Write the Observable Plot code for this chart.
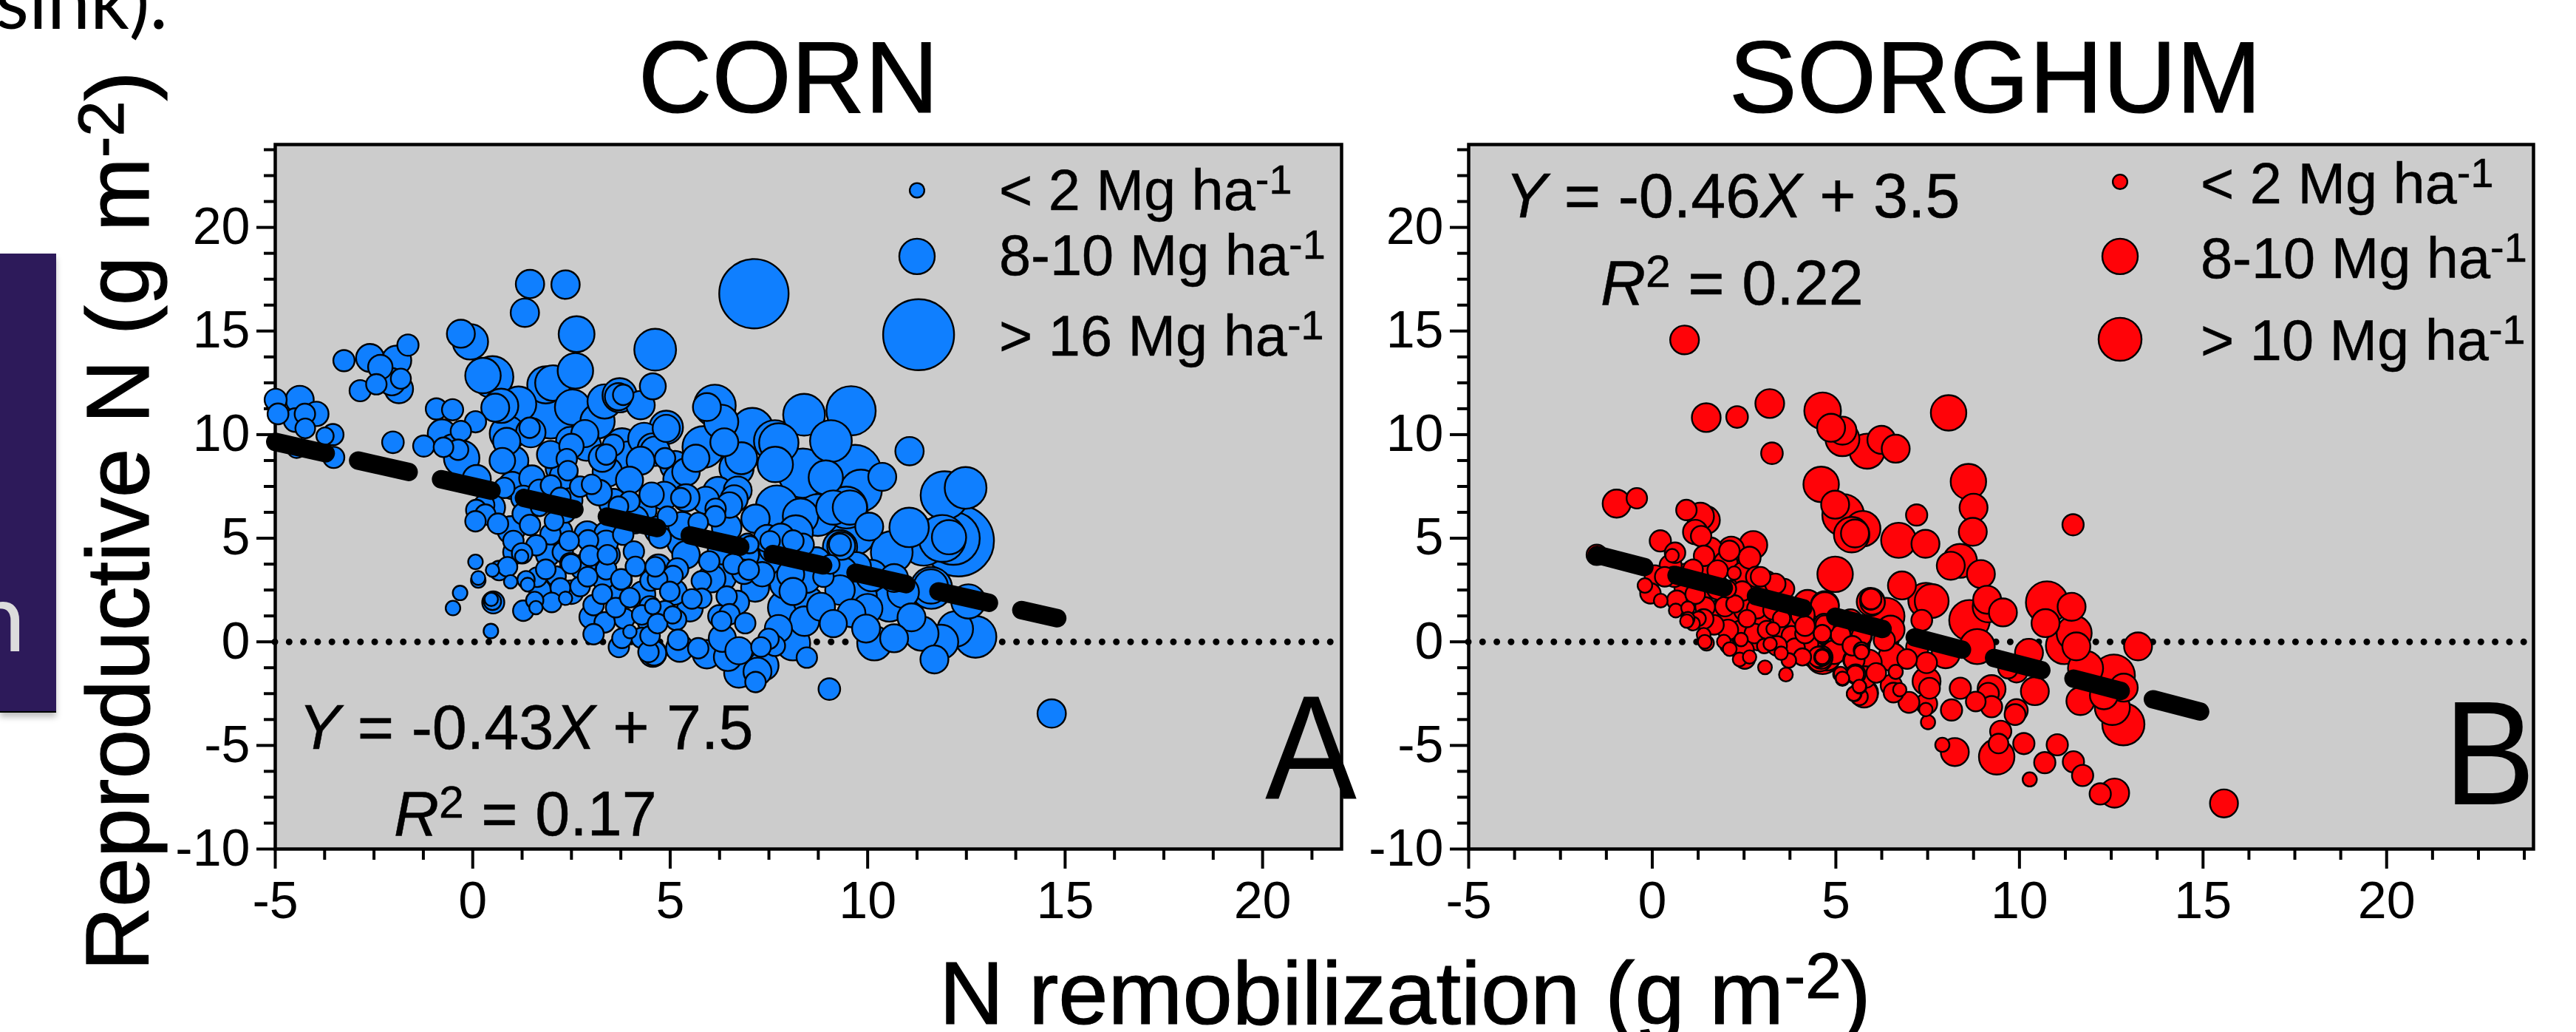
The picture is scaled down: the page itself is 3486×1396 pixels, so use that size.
<!DOCTYPE html>
<html><head><meta charset="utf-8">
<script src="https://cdn.jsdelivr.net/npm/d3@7"></script>
<script src="https://cdn.jsdelivr.net/npm/@observablehq/plot@0.6"></script>
<style>
html,body{margin:0;padding:0;background:#fff;width:3486px;height:1396px;overflow:hidden;font-family:"Liberation Sans",Arial,sans-serif;color:#000}
#page{position:relative;width:3486px;height:1396px;overflow:hidden}
#page svg{position:absolute;top:0;overflow:visible;background:transparent}
.t{position:absolute;line-height:1;white-space:pre}
.t sup{font-size:.72em;vertical-align:.4em;line-height:0}
.t i{font-style:italic}
#box{position:absolute;left:0;top:343px;width:76px;height:619px;background:#2d1a5a;border-bottom:2px solid #000;box-shadow:0 6px 8px rgba(0,0,0,.25)}
</style></head><body><div id="page"><div id="box"></div></div>
<script>
// [N remobilization g/m2, reproductive N g/m2, grain yield Mg/ha]
const cornPoints=[
[1.45,17.27,7.2],[2.35,17.24,7.2],[1.32,15.88,7.2],[2.63,14.85,9.1],[-0.06,14.48,9],[-0.3,14.87,7.1],[4.62,14.1,10.6],[7.12,16.8,17.6],[14.66,-3.46,7.2],
[-3.26,13.57,5.4],[-2.6,13.7,7.1],[-2.34,13.26,6.2],[-1.93,13.58,7.5],[-1.64,14.32,5.4],[-1.87,12.2,7.2],[-2.05,12.55,6.9],[-1.82,12.7,5.1],[-2.44,12.43,5.2],[-2.85,12.12,5.4],
[-4.99,11.68,5.6],[-4.93,11,5.3],[-4.38,11.68,7.1],[-3.96,11,6.2],[-4.49,10.7,6],[-4.24,10.3,5],[-4.25,11,5.2],[-3.74,9.93,4.4],[-3.54,10,5.4],[-3.52,8.9,5.4],[-4.46,9.33,4.8],
[-2.02,9.63,5.5],[-1.24,9.45,5.4],[-0.92,11.24,5.4],[-0.51,11.2,5.4],[0.07,10.62,5.4],[-0.78,10.05,7.2],[-0.3,10.17,5.2],[-0.74,9.39,5],[-0.37,9.27,5.2],[-0.54,9.49,5.4],[-0.28,8.86,9],[0.1,7.85,7.2],
[0.26,12.85,9],[0.5,12.78,10.6],[0.72,11.39,8.7],[0.57,11.3,7.1],[1.16,11.47,9],[2.03,12.49,9],[1.85,12.4,9.4],[2.6,13.08,9],[1.97,11,12.5],[2.53,11.32,9],[1.44,10.33,5.2],[1.47,10.1,7.5],[0.88,10.05,9],[0.86,9.67,6.9],[1.05,8.74,7.2],[0.75,8.74,6.5],[1.16,8,7.5],[1,7.55,6.9],[0.8,7.43,5.2],[1.28,6.95,6.2],
[1.97,9.04,6.9],[2.22,8.4,7.5],[2.5,9.45,6.2],[2.47,9.69,7.2],[2.38,8.82,5.2],[2.41,8.26,5],[2.84,10.05,6.9],[3.16,10.64,8.7],[2.88,9.45,7.5],[3.34,11.6,8.7],[3.72,11.9,8.7],[3.69,11.83,6.9],[3.81,11.92,5.2],[4.25,11.42,7.2],[4.56,12.33,6.6],
[3.78,9.5,8.5],[3.56,9.49,5.4],[3.38,9.04,5.2],[3.28,8.86,6.9],[3.94,8.9,8.1],[4.25,8.74,7.1],[4.34,9.8,8.1],[3.41,8.2,7.5],[3.97,7.8,6.9],[4.56,9.33,7.7],[3.01,7.6,5],[2.72,7.49,5.2],[1.98,7.55,5.2],[1.69,7.3,5.6],[2.22,6.95,5.2],[2.47,6.83,6.2],[2.09,6.83,6.2],
[3.56,6.7,7.2],[3.69,6.54,5],[3.97,6.77,5.2],[4.53,7.1,6.2],[4.28,6.36,7.5],[0.29,6.6,5.2],[0.47,6.48,7],[0.09,6.36,5.2],[0.32,6.14,5.2],[0.07,5.82,5.2],[0.64,5.7,5.2],[0.97,5.4,7],[1.28,6.18,5.5],[1.45,5.64,5.2],[1.69,6.48,4.4],[2.34,6.24,5.2],[2.06,5.82,4.8],[1.97,5.19,5.2],[2.44,4.87,5],[2.92,4.9,5.2],[2.28,4.33,5.2],[1.61,4.66,5.2],[1.03,4.87,5.2],[1.07,4.33,6],[1.25,4.27,5.2],[1.24,4.12,3.4],[2.47,3.8,5.2],[2.97,4.15,5.2],[3.38,4.8,6],[3.81,5.17,5.2],[4.08,4.36,5.2],[3.41,4.2,5],[4.12,3.64,5],[3.38,3.5,5.2],[3.77,3,5.2],[4.5,2.96,5.2],
[0.07,3.86,3.7],[0.67,3.44,5],[0.5,3.46,3.4],[0.88,3.62,5],[0.14,2.96,3.7],[0.14,3.08,3.5],[0.96,2.9,3.4],[1.39,2.76,3.5],[1.63,3.12,5],[2.11,3.17,5],[1.35,3,4.4],[1.85,3.5,5],[2.72,2.67,5],[2.91,3.14,5],[2.22,2.6,5],[2,1.9,5],[2.35,2.1,3.4],[1.57,2,4.4],[1.28,1.5,5.2],[1.6,1.65,3.4],[-0.32,2.36,3.7],[-0.5,1.63,3.7],[0.52,1.9,5.6],[0.5,1.95,4.4],[0.47,2.05,3.4],[0.46,0.52,3.7],
[3.06,1.77,5.2],[3.28,2.3,5],[3.62,1.65,5],[3.98,2.13,5],[3.84,1.12,5.2],[4.48,1.71,5.2],[3.34,0.94,5.2],[3.06,0.37,5.2],[3.78,0.17,5],[3.98,0.49,3.4],[4.28,0.19,5.2],[3.7,-0.25,5.2],[4.45,-0.49,5.2],[4.56,-0.55,6.9],[2.49,3.76,5],[4.28,1.3,5],[3.76,3.02,5.2],
[6.13,11.4,10.6],[5.93,11.33,7.1],[6.29,10.62,8.7],[7.08,10.28,10.6],[7.65,9.69,10.6],[7.75,9.6,10],[8.39,10.96,10.6],[9.58,11.15,12.5],[9.07,9.69,10.6],[6.37,9.63,7.1],[5.84,9.4,10.6],[5.65,8.86,6.9],[6.68,8.38,8.7],[6.8,8.86,8.1],[7.66,8.56,9],[8.36,8.14,12.5],[8.94,7.93,8.7],[9.68,8.26,13.1],[9.83,7.3,10.6],[10.37,7.96,7.1],[11.06,9.2,7.2],[4.9,10.3,6.9],[4.9,10.35,8.5],[4.62,9.2,7.5],[5.18,7.85,7.1],[5.12,8.5,7.5],[4.87,8.86,5.2],
[6.21,7.25,7.5],[5.9,6.83,6.9],[6.71,7.3,7.1],[6.62,6.9,6.9],[5.27,6.95,5],[5.4,6.95,6.9],[4.85,7.05,7.1],[6.15,6.42,5.2],[6.14,6.06,5.2],[6.43,5.52,7.5],[7.16,5.94,7.2],[7.7,6.54,10.6],[8.3,6.06,9],[8.74,6.12,10.6],[9.13,6.48,8.7],[9.46,6.48,10.6],[9.55,6.48,8.7],[10.04,5.56,7.1],[8.18,5.28,8.7],[8.11,4.87,5.4],[7.46,4.99,6.9],[7.53,4.87,5],[7.8,5.05,6.9],[8.36,4.69,5.6],[6.96,4.75,5],[7.02,4.69,4.4],[5.71,5.76,5],[4.93,6.06,5],[4.74,5.05,5.6],[5.3,4.81,7.5],
[10.61,4.33,10.6],[11.05,5.52,10],[11.42,4.81,11.9],[11.89,4.99,11.9],[12.3,4.87,18],[12.17,4.99,13.4],[12.06,5.05,8.7],[11.95,7.07,12.2],[12.48,7.43,10.6],[9.61,5.35,12.5],[9.33,4.63,7.1],[9.3,4.69,5.6],[9.3,4.57,8.7],[9.71,3.62,7.5],[9.36,3.38,7.5],[10.67,3.08,7.1],[9.05,3.74,4.8],[8.88,3.14,5.2],[8.46,3.02,6.9],[8.05,3.26,6.9],[8.11,2.43,6.9],[7.91,1.65,8.7],[8.82,1.69,7.1],[8.5,1.95,7.5],[9.8,2.19,8.7],[10.55,1.83,9],[9.59,1.38,7.1],[9.13,0.88,6.9],[9.96,0.64,7.1],[11.6,2.67,8.7],[11.61,2.6,10.6],[11.11,1.18,7.1],[12.55,1.95,8.7],[12.22,0.62,9],[12.73,0.24,10.6],[11.86,0,8.7],[11.69,-0.85,7.1],[10.67,0.17,7.1],[10.17,-0.07,8.7],[11.36,0.4,8.7],
[5.99,3.88,5.2],[6.6,3.76,5.2],[6.99,3.48,5.2],[6.87,3.38,6.2],[7.33,3.26,6.2],[7.15,2.61,7.1],[6.3,3.14,7.5],[5.79,2.94,5],[5.8,2.1,5],[5.55,2.07,5],[6.43,2.19,5.2],[5.07,3.2,5],[4.68,3.02,5],[4.62,3.62,5],[5.18,3.5,5.6],[4.99,2.43,5],[4.87,1.48,5.2],[5.06,1.3,4.4],[5.15,1.06,5.2],[4.56,1.71,4],[6.5,1.33,5.2],[6.3,1,5],[6.24,1.24,5.6],[6.9,0.9,5.2],[7.74,0.64,6.9],[8.11,-0.07,8.7],[8.46,-0.76,5.2],[7.65,-0.19,5.2],[7.49,0.14,5.2],[7.3,-0.25,5],[6.32,0.17,6.9],[6.46,-0.73,7.1],[6.74,-0.43,6.9],[6.74,-1.5,7.5],[7.37,-1.14,7.5],[7.21,-1.44,7.1],[7.16,-1.94,5.2],[5.71,-0.31,5.2],[5.93,-0.6,7.2],[5.2,0.1,5.2],[5.24,-0.31,6.9],[4.59,-0.55,6.2],[9.03,-2.28,5.5],[4.49,0.29,5],[4.68,0.88,5],
[2.2,5.3,6.5],[2.9,5.2,6.5],[3.4,5.2,6.5],[4.1,5.9,7],[4.7,5.4,7],[5.3,5.6,7],[1.9,4.2,6],[2.8,3.6,6.5],[3.4,4.2,6.5],[3,1.2,6],[3.5,2.6,6.5],[4.3,2.3,6.5],[4.7,3.6,6.5],[5.4,4.2,7],[6.05,3.05,7],[5.5,1.6,6.5],[6.3,4.4,7],[6.9,4.2,7],[7.5,3.9,7.5],[7.9,2.8,7.5],[6.7,1.9,6],[5.1,2.4,6.5],[4.5,1,6.5],[3.3,3.1,6],[2.5,2.4,6],[1.7,2.5,5.5],[7.6,4.5,7],[8.7,3.9,7],[9.3,2.5,7.5],[10,1.6,7.5],[10.9,2.4,8],[10.1,3.2,8],[8.4,1,7.5],[6.5,6.6,6.5],[5.4,8.2,7],[3.2,7.2,6.5],[2.3,8,7],[1.5,7.9,6.5]
];
const sorghumPoints=[
[0.88,14.57,7.3],[1.47,10.82,7.3],[2.31,10.85,5.5],[3.2,11.5,7.3],[3.26,9.1,5.5],
[-0.97,6.67,7.1],[-0.42,6.93,5.2],[-1.51,4.2,5.2],[-1.51,4.15,4.4],[0.93,6.36,5.2],[1.31,6.06,6.9],[1.46,5.88,7.1],[1.17,5.3,6.2],[1.33,5.1,5.2],[0.22,4.87,5.4],[0.62,4.3,5.2],[0.54,4.16,3.4],[1.58,4.45,6.2],[1.41,4.15,5.2],[2.15,4.45,6.6],[2.1,4.39,5.2],[2.75,4.67,7.1],[2.65,4.06,5.6],[1.78,3.44,5.2],[1.11,3.5,5],[2.23,3.32,3.4],[2.83,3.14,5.2],[2.95,3.14,5],[0.5,3.68,5.6],[0.07,3.2,5.2],[0.34,3.14,5],[0.6,3.14,5.2],[-0.2,2.72,3.7],[-0.05,2.34,5.2],[0.23,1.99,3.5],[0.67,2,5],[0.64,1.51,3.5],[0.97,1.63,3.4],[0.97,1.12,3.4],[1.11,0.88,3.5],[0.94,1,3.4],[1.26,1.12,3.7],[1.44,1.68,5],[1.17,2.3,5],[1.98,1.7,5],[2.25,1.83,4.4],[2.45,2.45,5],[2.05,2.55,4.4],[1.68,0.82,5],[2.06,0.58,5.2],[1.4,0.34,3.5],[1.43,0,3.5],[1.48,-0.07,3.7],[1.95,0.01,3.5],[2.11,-0.35,3.5],[2.05,-0.19,3.7],[2.42,0.11,3.4],[2.52,1.54,5.6],[2.85,1.6,5],[2.58,1.12,4.4],[2.78,0.4,5],[3.12,0.58,4.6],[3.29,0.62,3.4],[3.21,-0.1,3.4],[3.05,-0.2,3.7],[3.29,1.54,5],[3.59,2.55,5.2],[3.35,2.8,5.2],[3.52,1.12,4.4],[3.79,0.29,5],[3.89,-0.31,5],[3.51,-0.55,3.4],[3.72,-0.9,3.7],[4.16,0.4,5],[4.23,1.83,7.1],[4.7,1.77,7.1],[4.16,0.76,5],[4.68,0.86,5.2],[4.63,0.4,4.4],[4.09,-0.73,4.4],[2.65,-0.73,3.4],[2.52,-0.81,5.2],[2.38,-0.85,3.5],[3.07,-1.23,3.5],[3.64,-1.58,3.5],[4.63,-0.73,3.7],[4.6,-0.75,5.8],[4.76,-0.73,6.9],[4.53,-0.73,5.2],[5.13,0.34,5],[5.7,0.29,5],[5.5,-0.9,5.2],[5.7,-0.49,3.7],[5.53,-1.56,4.4],[5.13,-1.53,3.4],[5.18,-1.8,3.4],[5.77,-2.51,6.9],[5.65,-2.18,3.4],[5.5,-2.51,3.7],
[4.6,7.6,9],[4.98,6.62,7.1],[5.2,6.12,10.6],[5.73,5.46,9],[5.43,5.17,9],[5.52,5.23,7.1],[4.98,3.26,9],[5.96,2.07,5.2],[6,1.9,6.2],
[8.07,11.05,9],[4.64,11.15,9.3],[5.18,10.19,7.1],[4.87,10.33,7.1],[5.18,9.78,8.6],[5.85,9.2,8.9],[6.24,9.75,7.1],[6.63,9.32,7.1],[8.61,7.73,9],[8.75,6.47,7.1],[8.73,5.31,7.1],[7.2,6.12,5.4],[11.46,5.65,5.4],[6.71,4.9,8.9],[7.44,4.73,7.1],[8.38,3.91,8.6],[8.13,3.67,7.1],[8.95,3.27,7.1],[6.8,2.72,7.1],[7.61,1.97,8.6],[7.45,2,8.9],[9.12,2.03,7.1],[9.15,1.69,7.9],[9.55,1.42,7.1],[8.64,1.04,10.3],[8.85,-0.23,8.9],[7.34,1.04,5.3],[10.75,1.9,10.7],[11.42,1.69,7.1],[10.71,0.9,7.1],[11.49,0.42,8.9],[11.22,-0.19,9.3],[11.55,-0.22,7.1],[13.23,-0.22,7.1],[10.26,-0.53,7.1],[11.8,-1.28,8.9],[12.57,-1.63,10.7],[12.84,-2.21,7.1],[11.66,-2.86,7.1],[12.3,-2.58,7.1],[12.53,-3.17,8.9],[12.83,-3.98,10.7],[10.42,-2.38,7.1],[9.69,-1.29,5],[9.92,-1.42,5.7],
[5.95,1.93,7.1],[5.95,2.06,5.4],[6.37,1.24,9.3],[6.49,0.59,7.1],[6.32,0.08,5.4],[5.68,0.29,5.7],[5.1,0.42,5.4],[4.7,0.83,4.7],[4.7,1.72,7.1],[5.45,-0.19,5],[5.7,-0.4,4],[6.54,-0.74,7.1],[6.94,-0.83,5],[7.22,-0.26,5.7],[7.99,-0.6,7.1],[7.47,-1.01,5.3],[5.49,-0.88,5.4],[5.54,-1.56,5],[6.63,-1.45,3.6],[7.47,-1.9,7.1],[7.55,-2.24,5.3],[6.51,-2.1,5.4],[6.57,-2.45,5],[6.74,-2.31,3.4],[6.99,-2.92,5.3],[7.47,-2.99,5.4],[7.45,-3.27,3.4],[7.51,-3.88,3.6],[5.64,-2.15,3.4],[5.49,-2.51,3.6],[5.77,-2.47,7.1],[5.64,-2.65,4.3],[5.12,-1.56,3.6],[5.18,-1.76,3.4],[4.64,-0.74,8.6],[4.64,-0.74,4.3],[4.56,-0.82,6.4],
[8.15,-3.29,5.4],[8.39,-2.24,5.4],[9.24,-2.28,7.1],[9.15,-2.49,5.4],[8.81,-2.88,5],[9.24,-3.13,5.4],[9.92,-3.31,5.7],[9.88,-3.51,5.3],[9.49,-4.32,5.4],[9.43,-4.91,5],[9.38,-5.55,9],[8.24,-5.32,7.1],[7.9,-4.97,3.6],[10.12,-4.91,5.4],[11.03,-4.97,5.4],[10.69,-5.83,5.4],[11.47,-5.79,5.4],[11.72,-6.45,5.4],[10.28,-6.64,3.6],[12.59,-7.3,7.4],[12.2,-7.34,5.4],[15.57,-7.8,7.1],
[0.9,2.6,5.5],[1.3,2.4,6],[1.8,2.6,6],[2.2,2.4,6],[2.6,2.3,6],[3,2,6],[3.3,1.2,6],[1.7,1.4,6],[2.1,1.1,6],[1.4,1.1,5],[2.9,0.9,6],[3.5,0.5,6],[4,0.9,6],[3.5,1.8,6],[4.1,1.3,6],[2.4,0.5,5.5],[2.9,0.1,5.5],[2.5,-0.4,5],[3.4,-0.2,5],[0.9,3.2,6],[1.5,3.5,6],[2,3.8,6],[2.5,3.3,6],[3.1,2.9,5.5],[5,0.9,6],[5.4,1,6],[5.6,-0.1,6],[4.2,-0.1,6],[4.4,-0.6,6.5],[4.95,-0.5,6],[5.3,0.4,6],[5.9,-1,6.5],[6.1,-1.5,5],[5.8,-1.7,5.5]
];
const cornFitX=[-5,14.8], cornFitY=[9.65,1.14];
const sorghumFitX=[-1.5,15.3], sorghumFitY=[4.2,-3.54];
const cornLegendX=[11.25,11.25,11.29], cornLegendY=[21.79,18.6,14.82], cornLegendYield=[3.7,9,18];
const sorghumLegendX=[12.74,12.74,12.74], sorghumLegendY=[22.2,18.6,14.6], sorghumLegendYield=[3.7,9,10.9];
const xMajor=[-5,0,5,10,15,20], yMajor=[-10,-5,0,5,10,15,20];
const yMinor=d3.range(-10,24,1.25).filter(v=>v%5!==0);
const cornXMinor=d3.range(-5,22,1.25).filter(v=>v%5!==0);
const sorghumXMinor=d3.range(-5,24,1.25).filter(v=>v%5!==0);

const page=document.getElementById("page");
function panel({left,width,mL,mR,xDomain,xMinor,points,fitX,fitY,lx,ly,ly2,color,dash}){
  const fs=70;
  const svg=Plot.plot({
    width,height:1396,marginLeft:mL,marginRight:mR,marginTop:195,marginBottom:248,
    style:{fontFamily:"'Liberation Sans',Arial,sans-serif",background:"transparent",overflow:"visible"},
    x:{domain:xDomain,label:null,axis:null},
    y:{domain:[-10,24],label:null,axis:null},
    r:{type:"linear",domain:[0,18],range:[0,48]},
    marks:[
      Plot.frame({fill:"#cccccc",stroke:"#000",strokeWidth:4.5}),
      Plot.ruleY([0],{stroke:"#000",strokeWidth:9,strokeLinecap:"round",strokeDasharray:"0 19.3"}),
      Plot.axisX(xMajor,{anchor:"bottom",tickSize:27,tickPadding:17,fontSize:fs,strokeWidth:4,stroke:"#000",fill:"#000",label:null,tickFormat:d=>String(d)}),
      Plot.axisX(xMinor,{anchor:"bottom",tickSize:15,strokeWidth:4,stroke:"#000",text:null,label:null}),
      Plot.axisY(yMajor,{anchor:"left",tickSize:25,tickPadding:9,fontSize:fs,strokeWidth:4,stroke:"#000",fill:"#000",label:null,tickFormat:d=>String(d)}),
      Plot.axisY(yMinor,{anchor:"left",tickSize:15,strokeWidth:4,stroke:"#000",text:null,label:null}),
      Plot.dot(points,{x:d=>d[0],y:d=>d[1],r:d=>d[2],fill:color,stroke:"#000",strokeWidth:2.4}),
      Plot.dot(lx.map((x,i)=>({x,y:ly[i],v:ly2[i]})),{x:"x",y:"y",r:"v",fill:color,stroke:"#000",strokeWidth:2.4}),
      Plot.line(fitX.map((x,i)=>({x,y:fitY[i]})),{x:"x",y:"y",stroke:"#000",strokeWidth:25,strokeLinecap:"round",strokeDasharray:dash})
    ]
  });
  svg.style.left=left+"px";
  page.appendChild(svg);
}
panel({left:0,width:1845,mL:372,mR:30,xDomain:[-5,22],xMinor:cornXMinor,points:cornPoints,fitX:cornFitX,fitY:cornFitY,lx:cornLegendX,ly:cornLegendY,ly2:cornLegendYield,color:"#0f7fff",dash:"70 45"});
panel({left:1845,width:1641,mL:142,mR:58,xDomain:[-5,24],xMinor:sorghumXMinor,points:sorghumPoints,fitX:sorghumFitX,fitY:sorghumFitY,lx:sorghumLegendX,ly:sorghumLegendY,ly2:sorghumLegendYield,color:"#ff0308",dash:"66 45"});

function label(html,x,base,fs,opt={}){
  const d=document.createElement("div");d.className="t";d.innerHTML=html;
  d.style.fontSize=fs+"px";d.style.left=x+"px";d.style.top=(base-.8465*fs)+"px";
  if(opt.center)d.style.transform="translateX(-50%)";
  if(opt.rotate){d.style.transformOrigin="0 "+(.8465*fs)+"px";d.style.transform="rotate(-90deg)";}
  if(opt.narrow){d.style.transformOrigin="0 0";d.style.transform="scaleX("+opt.narrow+")";}
  if(opt.font)d.style.fontFamily=opt.font;
  if(opt.color)d.style.color=opt.color;
  if(opt.stroke)d.style.webkitTextStroke=opt.stroke+"px currentColor";
  page.appendChild(d);
}
const mg='Mg ha<sup>-1</sup>';
label("CORN",1067,152,138,{center:true,stroke:1.2});
label("SORGHUM",2700,152,138,{center:true,stroke:1.2});
label("Reproductive N (g m<sup>-2</sup>)",201,1314,120,{rotate:true,stroke:1.2});
label("N remobilization (g m<sup>-2</sup>)",1271,1385,121,{stroke:1.2});
label("&lt; 2 "+mg,1352,285,77.5,{stroke:.5});
label("8-10 "+mg,1352,373,77.5,{stroke:.5});
label("&gt; 16 "+mg,1352,482,77.5,{stroke:.5});
label("&lt; 2 "+mg,2978,276,77.5,{stroke:.5});
label("8-10 "+mg,2978,377,77.5,{stroke:.5});
label("&gt; 10 "+mg,2978,488,77.5,{stroke:.5});
label("<i>Y</i> = -0.43<i>X</i> + 7.5",404,1014,84.5,{stroke:.5});
label("<i>R</i><sup>2</sup> = 0.17",533,1131,84.5,{stroke:.5});
label("<i>Y</i> = -0.46<i>X</i> + 3.5",2037,295,84.5,{stroke:.5});
label("<i>R</i><sup>2</sup> = 0.22",2166,413,84.5,{stroke:.5});
label("A",1712,1080,200,{narrow:.93});
label("B",3307,1088,200,{narrow:.93});
label("sink).",-6,35,104,{font:"Lato"});
label("n",-38,876,130,{font:"Lato",color:"#dcdcdc"});
</script></body></html>
